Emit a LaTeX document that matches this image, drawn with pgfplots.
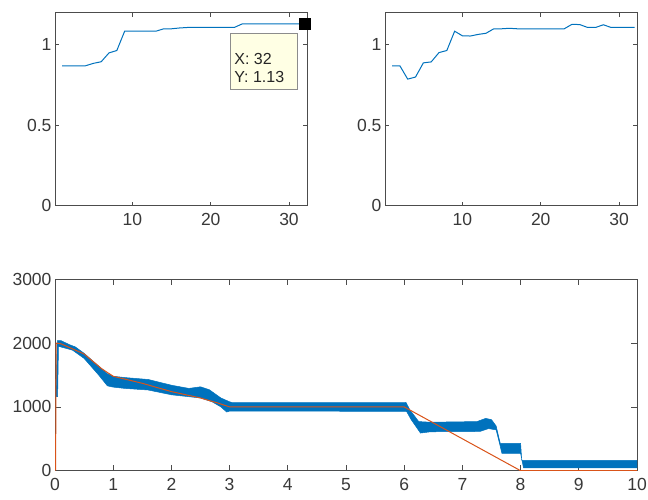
\documentclass[border=0pt]{standalone}
\usepackage{fontspec}
\setmainfont{Liberation Sans}
\usepackage{pgfplots}
\pgfplotsset{compat=1.18}

\definecolor{mblue}{rgb}{0,0.447,0.741}
\definecolor{morange}{rgb}{0.85,0.325,0.098}
\definecolor{tipfill}{RGB}{255,255,228}
\definecolor{axgray}{gray}{0.3}

\pgfplotsset{
  mstyle/.style={
    scale only axis, anchor=south west,
    axis line style={axgray, line width=0.8pt},
    every tick/.style={axgray, line width=0.8pt},
    tick align=inside,
    ticklabel style={font=\fontsize{17.5}{19}\selectfont, text=black!78},
    xticklabel style={yshift=-4pt},
    /pgf/number format/assume math mode=true,
    /pgf/number format/1000 sep={},
    enlargelimits=false,
  },
}

\begin{document}
\begin{tikzpicture}
\useasboundingbox (0pt,0pt) rectangle (648pt,499pt);

% top left
\begin{axis}[mstyle, at={(55pt,293.3pt)}, width=252pt, height=193pt,
  xmin=0.1, xmax=32.3, ymin=0, ymax=1.2,
  xtick={10,20,30}, ytick={0,0.5,1}, major tick length=4pt, clip=false]
\addplot[mblue, line width=1pt] coordinates {
  (1,0.87) (2,0.87) (3,0.87) (4,0.87) (5,0.885) (6,0.895) (7,0.95) (8,0.965)
  (9,1.085) (10,1.085) (11,1.085) (12,1.085) (13,1.085) (14,1.10) (15,1.10)
  (16,1.105) (17,1.108) (18,1.108) (19,1.108) (20,1.108) (21,1.108) (22,1.108)
  (23,1.108) (24,1.13) (25,1.13) (26,1.13) (27,1.13) (28,1.13) (29,1.13)
  (30,1.13) (31,1.13) (32,1.13)};
\draw[draw=black!45, fill=tipfill] (axis cs:22.55,0.724) rectangle (axis cs:31.06,1.072);
\node[anchor=base west, inner sep=0pt, font=\fontsize{16}{17}\selectfont, text=black!85]
  at (axis cs:23.0,0.881) {X: 32};
\node[anchor=base west, inner sep=0pt, font=\fontsize{16}{17}\selectfont, text=black!85]
  at (axis cs:23.0,0.769) {Y: 1.13};
\addplot[only marks, mark=square*, mark size=5.5pt, mark options={fill=black, draw=black}]
  coordinates {(32,1.13)};
\end{axis}

% top right
\begin{axis}[mstyle, at={(385pt,293.3pt)}, width=252pt, height=193pt,
  xmin=0.1, xmax=32.3, ymin=0, ymax=1.2,
  xtick={10,20,30}, ytick={0,0.5,1}, major tick length=4pt]
\addplot[mblue, line width=1pt] coordinates {
  (1,0.87) (2,0.87) (3,0.787) (4,0.80) (5,0.888) (6,0.894) (7,0.952) (8,0.965)
  (9,1.085) (10,1.056) (11,1.055) (12,1.065) (13,1.072) (14,1.10) (15,1.10)
  (16,1.103) (17,1.10) (18,1.10) (19,1.10) (20,1.10) (21,1.10) (22,1.10)
  (23,1.10) (24,1.128) (25,1.126) (26,1.108) (27,1.108) (28,1.125) (29,1.108)
  (30,1.108) (31,1.108) (32,1.108)};
\end{axis}

% bottom
\begin{axis}[mstyle, at={(55pt,28.3pt)}, width=582pt, height=191.4pt,
  xmin=0, xmax=10, ymin=0, ymax=3000,
  xtick={0,1,...,10}, ytick={0,1000,2000,3000}, major tick length=6pt]
\addplot[fill=mblue, draw=mblue, line width=0.5pt] coordinates {
  (0.02,1280) (0.04,2040) (0.10,2040) (0.25,1975) (0.35,1940) (0.5,1840)
  (0.75,1640) (0.9,1520) (1.0,1480) (1.2,1460) (1.6,1430) (2.0,1340)
  (2.3,1290) (2.5,1315) (2.65,1270) (2.85,1140) (3.0,1080) (3.05,1066)
  (6.0,1066) (6.03,1070) (6.1,950) (6.25,770) (6.45,760) (7.25,770)
  (7.4,820) (7.5,800) (7.58,700) (7.65,430) (8.0,430) (8.02,160) (10,160)
  (10,45) (8.05,45) (8.0,270) (7.68,270) (7.58,640) (7.45,660) (7.3,615)
  (6.45,610) (6.28,590) (6.12,800) (6.04,930) (3.0,935) (2.95,920)
  (2.85,1000) (2.7,1080) (2.5,1140) (2.2,1170) (2.0,1190) (1.6,1265)
  (1.2,1290) (1.0,1310) (0.9,1330) (0.75,1500) (0.5,1760) (0.3,1890)
  (0.1,1940) (0.06,1950) (0.045,1160) (0.02,1160)} -- cycle;
\addplot[morange, line width=1pt] coordinates {
  (0.01,0) (0.02,2000) (0.1,1990) (0.5,1830) (0.8,1600) (1.0,1480)
  (1.5,1370) (2.0,1240) (2.5,1140) (2.8,1060) (3.0,1000) (6.0,1000)
  (8.0,0) (10,0)};
\end{axis}
\end{tikzpicture}
\end{document}
